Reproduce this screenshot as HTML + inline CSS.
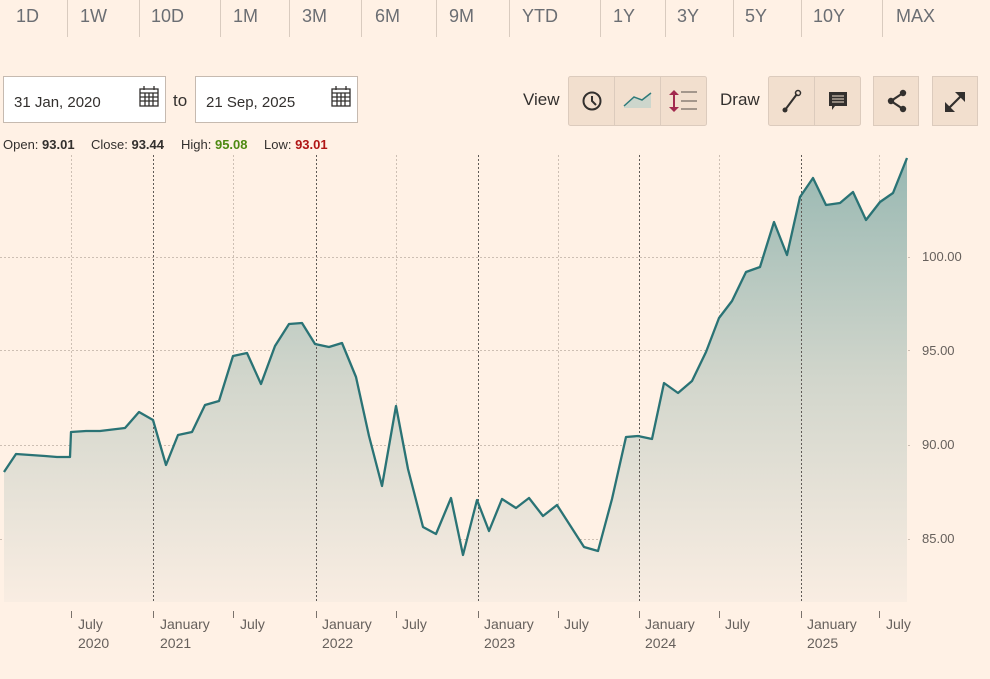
<!DOCTYPE html>
<html><head><meta charset="utf-8">
<style>
html,body{margin:0;padding:0;background:#fff1e5;}
body{width:990px;height:679px;overflow:hidden;font-family:"Liberation Sans",Arial,sans-serif;}
svg{display:block}
</style></head>
<body>
<svg width="990" height="679" viewBox="0 0 990 679" xmlns="http://www.w3.org/2000/svg" font-family="Liberation Sans, Arial, sans-serif">
<defs>
<linearGradient id="g" x1="0" y1="0" x2="0" y2="1">
<stop offset="0" stop-color="#98b8b2"/>
<stop offset="0.5" stop-color="#d2d6cc"/>
<stop offset="1" stop-color="#f9ede2"/>
</linearGradient>
</defs>
<rect width="990" height="679" fill="#fff1e5"/>
<g fill="#6b6e73" font-size="18">
<text x="16" y="22">1D</text><text x="80" y="22">1W</text><text x="151" y="22">10D</text><text x="233" y="22">1M</text><text x="302" y="22">3M</text><text x="375" y="22">6M</text><text x="449" y="22">9M</text><text x="522" y="22">YTD</text><text x="613" y="22">1Y</text><text x="677" y="22">3Y</text><text x="745" y="22">5Y</text><text x="813" y="22">10Y</text><text x="896" y="22">MAX</text>
</g>
<g stroke="#d9cbbf" stroke-width="1">
<line x1="67.5" y1="0" x2="67.5" y2="37"/><line x1="139.5" y1="0" x2="139.5" y2="37"/><line x1="220.5" y1="0" x2="220.5" y2="37"/><line x1="289.5" y1="0" x2="289.5" y2="37"/><line x1="361.5" y1="0" x2="361.5" y2="37"/><line x1="436.5" y1="0" x2="436.5" y2="37"/><line x1="509.5" y1="0" x2="509.5" y2="37"/><line x1="600.5" y1="0" x2="600.5" y2="37"/><line x1="665.5" y1="0" x2="665.5" y2="37"/><line x1="733.5" y1="0" x2="733.5" y2="37"/><line x1="801.5" y1="0" x2="801.5" y2="37"/><line x1="882.5" y1="0" x2="882.5" y2="37"/>
</g>
<rect x="3.5" y="76.5" width="162" height="46" fill="#fff" stroke="#c6bab0"/>
<text x="14" y="107" font-size="15" fill="#33302e">31 Jan, 2020</text>
<rect x="195.5" y="76.5" width="162" height="46" fill="#fff" stroke="#c6bab0"/>
<text x="206" y="107" font-size="15" fill="#33302e">21 Sep, 2025</text>
<text x="173" y="106" font-size="17" fill="#33302e">to</text>
<g fill="none" stroke="#33302e" stroke-width="1.3">
<rect x="140" y="89" width="18" height="17"/><line x1="140" y1="93" x2="158" y2="93"/>
<line x1="140" y1="97" x2="158" y2="97"/><line x1="140" y1="101" x2="158" y2="101"/>
<line x1="145" y1="93" x2="145" y2="106"/><line x1="149" y1="93" x2="149" y2="106"/><line x1="153" y1="93" x2="153" y2="106"/>
<rect x="332" y="89" width="18" height="17"/><line x1="332" y1="93" x2="350" y2="93"/>
<line x1="332" y1="97" x2="350" y2="97"/><line x1="332" y1="101" x2="350" y2="101"/>
<line x1="337" y1="93" x2="337" y2="106"/><line x1="341" y1="93" x2="341" y2="106"/><line x1="345" y1="93" x2="345" y2="106"/>
<line x1="144" y1="86" x2="144" y2="90"/><line x1="154" y1="86" x2="154" y2="90"/>
<line x1="336" y1="86" x2="336" y2="90"/><line x1="346" y1="86" x2="346" y2="90"/>
</g>
<text x="523" y="105" font-size="17" fill="#33302e">View</text>
<text x="720" y="105" font-size="17" fill="#33302e">Draw</text>
<g fill="#f2dfce" stroke="#dccbbd">
<rect x="568.5" y="76.5" width="138" height="49" rx="2"/>
<rect x="768.5" y="76.5" width="92" height="49" rx="2"/>
<rect x="873.5" y="76.5" width="45" height="49"/>
<rect x="932.5" y="76.5" width="45" height="49"/>
</g>
<g stroke="#dccbbd"><line x1="614.5" y1="77" x2="614.5" y2="125"/><line x1="660.5" y1="77" x2="660.5" y2="125"/><line x1="814.5" y1="77" x2="814.5" y2="125"/></g>
<circle cx="592" cy="101" r="8.5" fill="none" stroke="#33302e" stroke-width="2"/>
<path d="M592 96 V101 L596 105" fill="none" stroke="#33302e" stroke-width="2"/>
<path d="M624 106 L634 97 L642 100 L651 93 L651 108 L624 108Z" fill="#cdd6cc"/>
<path d="M624 106 L634 97 L642 100 L651 93" fill="none" stroke="#2e7a79" stroke-width="1.5"/>
<path d="M674 92 V110" stroke="#a2294e" stroke-width="2"/>
<path d="M669 95 L674 90 L679 95Z M669 107 L674 112 L679 107Z" fill="#a2294e"/>
<g stroke="#8a7f77" stroke-width="1.5"><line x1="681" y1="92" x2="697" y2="92"/><line x1="681" y1="101" x2="697" y2="101"/><line x1="681" y1="109" x2="697" y2="109"/></g>
<path d="M785 110 L797 94" stroke="#33302e" stroke-width="2"/>
<circle cx="785" cy="110" r="2.5" fill="#33302e"/><circle cx="798" cy="93" r="2.5" fill="none" stroke="#33302e" stroke-width="1.5"/>
<path d="M829 92 H847 V106 H835 L832 110 V106 H829Z" fill="#33302e"/>
<g stroke="#f2dfce" stroke-width="1"><line x1="832" y1="96" x2="844" y2="96"/><line x1="832" y1="99" x2="844" y2="99"/><line x1="832" y1="102" x2="844" y2="102"/></g>
<path d="M903 93 L891 101 L903 109" fill="none" stroke="#33302e" stroke-width="2.2"/>
<circle cx="903" cy="93" r="3.2" fill="#33302e"/><circle cx="891" cy="101" r="3.2" fill="#33302e"/><circle cx="903" cy="109" r="3.2" fill="#33302e"/>
<path d="M948 109 L962 95" stroke="#33302e" stroke-width="2.2"/>
<path d="M955 92 H965 V102Z M945 102 V112 H955Z" fill="#33302e"/>
<g font-size="13" fill="#33302e">
<text x="3" y="149">Open: <tspan font-weight="bold">93.01</tspan></text>
<text x="91" y="149">Close: <tspan font-weight="bold">93.44</tspan></text>
<text x="181" y="149">High: <tspan font-weight="bold" fill="#4e8a12">95.08</tspan></text>
<text x="264" y="149">Low: <tspan font-weight="bold" fill="#b01515">93.01</tspan></text>
</g>
<g stroke="#cdbfb3" stroke-width="1" stroke-dasharray="2,2">
<line x1="0" y1="257.5" x2="912" y2="257.5"/><line x1="0" y1="350.5" x2="912" y2="350.5"/><line x1="0" y1="445.5" x2="912" y2="445.5"/><line x1="0" y1="539.5" x2="912" y2="539.5"/>
<line x1="71.5" y1="155" x2="71.5" y2="602"/><line x1="233.5" y1="155" x2="233.5" y2="602"/><line x1="396.5" y1="155" x2="396.5" y2="602"/><line x1="558.5" y1="155" x2="558.5" y2="602"/><line x1="719.5" y1="155" x2="719.5" y2="602"/><line x1="879.5" y1="155" x2="879.5" y2="602"/>
</g>
<path d="M4,472 L16,454 L45,456 L57,457 L70,457 L71,432 L86,431 L100,431 L125,428 L139,412 L153,420 L166,465 L178,435 L192,432 L205,405 L219,401 L233,356 L247,353 L261,384 L275,346 L289,324 L302,323 L315,344 L329,347 L342,343 L356,377 L369,436 L382,486 L396,406 L408,469 L423,527 L436,534 L451,498 L463,555 L477,500 L489,531 L502,499 L516,508 L529,498 L543,516 L557,505 L584,547 L598,551 L612,499 L626,437 L638,436 L652,439 L664,383 L678,393 L692,381 L706,352 L719,318 L732,301 L746,272 L760,267 L774,222 L787,255 L800,197 L813,178 L826,205 L840,203 L853,192 L866,220 L880,202 L893,193 L907,158 L907,602 L4,602Z" fill="url(#g)"/>
<g stroke="#5f5a56" stroke-width="1" stroke-dasharray="2,2">
<line x1="153.5" y1="155" x2="153.5" y2="602"/><line x1="316.5" y1="155" x2="316.5" y2="602"/><line x1="478.5" y1="155" x2="478.5" y2="602"/><line x1="639.5" y1="155" x2="639.5" y2="602"/><line x1="801.5" y1="155" x2="801.5" y2="602"/>
</g>
<path d="M4,472 L16,454 L45,456 L57,457 L70,457 L71,432 L86,431 L100,431 L125,428 L139,412 L153,420 L166,465 L178,435 L192,432 L205,405 L219,401 L233,356 L247,353 L261,384 L275,346 L289,324 L302,323 L315,344 L329,347 L342,343 L356,377 L369,436 L382,486 L396,406 L408,469 L423,527 L436,534 L451,498 L463,555 L477,500 L489,531 L502,499 L516,508 L529,498 L543,516 L557,505 L584,547 L598,551 L612,499 L626,437 L638,436 L652,439 L664,383 L678,393 L692,381 L706,352 L719,318 L732,301 L746,272 L760,267 L774,222 L787,255 L800,197 L813,178 L826,205 L840,203 L853,192 L866,220 L880,202 L893,193 L907,158" fill="none" stroke="#2a7375" stroke-width="2.3" stroke-linejoin="round"/>
<g font-size="13" fill="#66605c">
<text x="922" y="261">100.00</text><text x="922" y="355">95.00</text><text x="922" y="449">90.00</text><text x="922" y="543">85.00</text>
</g>
<g stroke="#7a726c" stroke-width="1">
<line x1="71.5" y1="611" x2="71.5" y2="618"/><line x1="153.5" y1="611" x2="153.5" y2="618"/><line x1="233.5" y1="611" x2="233.5" y2="618"/><line x1="316.5" y1="611" x2="316.5" y2="618"/><line x1="396.5" y1="611" x2="396.5" y2="618"/><line x1="478.5" y1="611" x2="478.5" y2="618"/><line x1="558.5" y1="611" x2="558.5" y2="618"/><line x1="639.5" y1="611" x2="639.5" y2="618"/><line x1="719.5" y1="611" x2="719.5" y2="618"/><line x1="801.5" y1="611" x2="801.5" y2="618"/><line x1="879.5" y1="611" x2="879.5" y2="618"/>
</g>
<g font-size="14" fill="#66605c">
<text x="78" y="629">July</text><text x="78" y="648">2020</text>
<text x="160" y="629">January</text><text x="160" y="648">2021</text>
<text x="240" y="629">July</text>
<text x="322" y="629">January</text><text x="322" y="648">2022</text>
<text x="402" y="629">July</text>
<text x="484" y="629">January</text><text x="484" y="648">2023</text>
<text x="564" y="629">July</text>
<text x="645" y="629">January</text><text x="645" y="648">2024</text>
<text x="725" y="629">July</text>
<text x="807" y="629">January</text><text x="807" y="648">2025</text>
<text x="886" y="629">July</text>
</g>
</svg>
</body></html>
